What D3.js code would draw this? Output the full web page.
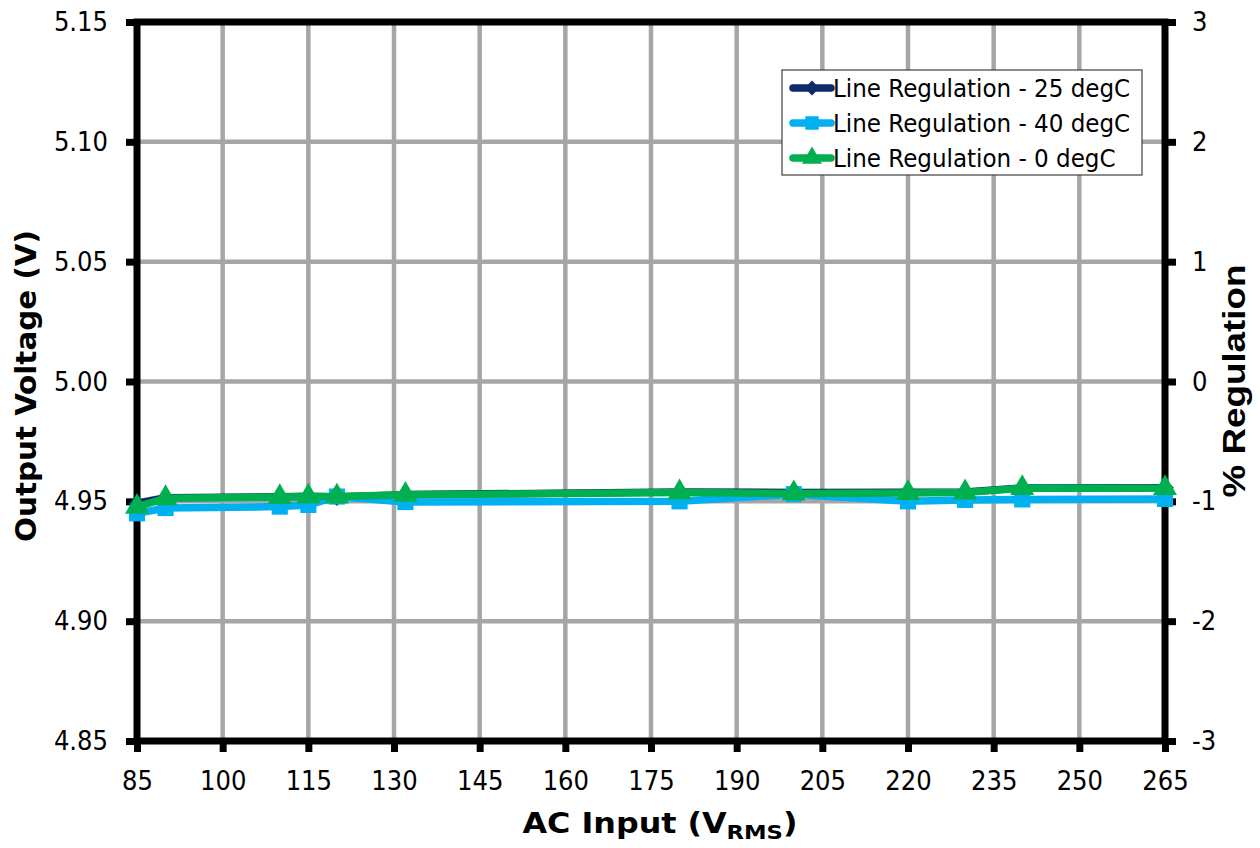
<!DOCTYPE html>
<html>
<head>
<meta charset="utf-8">
<script src="https://cdn.jsdelivr.net/npm/d3@7"></script>
<style>
  html, body { margin: 0; padding: 0; background: #ffffff; }
  svg { display: block; }
  .tick-label { font-family: "DejaVu Sans Condensed", "DejaVu Sans", sans-serif; font-stretch: condensed; font-size: 27px; fill: #000; }
  .axis-title { font-family: "DejaVu Sans Condensed", "DejaVu Sans", sans-serif; font-stretch: condensed; font-weight: bold; fill: #000; }
  .reg-title { font-family: "Liberation Sans", Arial, sans-serif; font-weight: bold; font-size: 31px; fill: #000; }
  .legend-text { font-family: "DejaVu Sans Condensed", "DejaVu Sans", sans-serif; font-stretch: condensed; font-size: 25.6px; fill: #000; }
</style>
</head>
<body>
<svg id="chart" width="1260" height="848"></svg>
<script>
// AC input voltages measured (V RMS)
const acInput = [85, 90, 110, 115, 120, 132, 180, 200, 220, 230, 240, 265];

// Output voltage (V) at each input voltage, per ambient temperature
const vout25C = [4.9492, 4.9515, 4.9519, 4.9521, 4.9518, 4.9528, 4.9539, 4.9537, 4.9538, 4.9539, 4.9556, 4.9557];
const vout40C = [4.9450, 4.9472, 4.9478, 4.9485, 4.9520, 4.9497, 4.9500, 4.9530, 4.9500, 4.9506, 4.9508, 4.9510];
const vout0C  = [4.9477, 4.9513, 4.9518, 4.9520, 4.9520, 4.9527, 4.9537, 4.9533, 4.9535, 4.9537, 4.9555, 4.9555];

const seriesNames = ["Line Regulation - 25 degC", "Line Regulation - 40 degC", "Line Regulation - 0 degC"];

// Axis ticks
const xTicks = [85, 100, 115, 130, 145, 160, 175, 190, 205, 220, 235, 250, 265];
const yTicks = [4.85, 4.90, 4.95, 5.00, 5.05, 5.10, 5.15];
const regTicks = [-3, -2, -1, 0, 1, 2, 3];

const svg = d3.select("#chart");
const plot = { left: 137, right: 1165, top: 22, bottom: 741 };

const x = d3.scaleLinear().domain([85, 265]).range([plot.left, plot.right]);
const y = d3.scaleLinear().domain([4.85, 5.15]).range([plot.bottom, plot.top]);
const yReg = d3.scaleLinear().domain([-3, 3]).range([plot.bottom, plot.top]);

const gridColor = "#a6a6a6";

// Grid lines
const grid = svg.append("g");
grid.selectAll("line.vg")
  .data(xTicks.slice(1, -1))
  .join("line")
  .attr("x1", d => x(d)).attr("x2", d => x(d))
  .attr("y1", plot.top).attr("y2", plot.bottom)
  .attr("stroke", gridColor).attr("stroke-width", 4.5);
grid.selectAll("line.hg")
  .data(yTicks.slice(1, -1))
  .join("line")
  .attr("x1", plot.left).attr("x2", plot.right)
  .attr("y1", d => y(d)).attr("y2", d => y(d))
  .attr("stroke", gridColor).attr("stroke-width", 4.5);

// Axes (frame plus outward ticks)
const axisStroke = 7;
function styleAxis(g) {
  g.select(".domain").remove();
  g.selectAll(".tick line").attr("stroke", "#000").attr("stroke-width", axisStroke);
  g.selectAll(".tick text").attr("class", "tick-label").attr("fill", "#000");
}

const xAxis = svg.append("g")
  .attr("transform", `translate(0,${plot.bottom})`)
  .call(d3.axisBottom(x).tickValues(xTicks).tickFormat(d => String(d)).tickSize(11).tickPadding(19));
styleAxis(xAxis);
xAxis.selectAll(".tick text").attr("dy", "0.71em");

const yAxis = svg.append("g")
  .attr("transform", `translate(${plot.left},0)`)
  .call(d3.axisLeft(y).tickValues(yTicks).tickFormat(d => d.toFixed(2)).tickSize(11).tickPadding(18));
styleAxis(yAxis);

const rAxis = svg.append("g")
  .attr("transform", `translate(${plot.right},0)`)
  .call(d3.axisRight(yReg).tickValues(regTicks).tickFormat(d => String(d)).tickSize(11).tickPadding(16));
styleAxis(rAxis);

// Frame
svg.append("rect")
  .attr("x", plot.left).attr("y", plot.top)
  .attr("width", plot.right - plot.left).attr("height", plot.bottom - plot.top)
  .attr("fill", "none").attr("stroke", "#000").attr("stroke-width", axisStroke);

// Series
const colors = ["#0f2a6b", "#00b0f0", "#00b050"];
const shapes = [d3.symbolDiamond2, d3.symbolSquare, d3.symbolTriangle];
const sizes = [200, 260, 250];
const seriesData = [vout25C, vout40C, vout0C];

const line = d3.line().x(d => x(d[0])).y(d => y(d[1]));

seriesData.forEach((vals, i) => {
  const pts = acInput.map((v, j) => [v, vals[j]]);
  const g = svg.append("g");
  g.append("path")
    .datum(pts)
    .attr("d", line)
    .attr("fill", "none")
    .attr("stroke", colors[i])
    .attr("stroke-width", 7.5)
    .attr("stroke-linejoin", "round")
    .attr("stroke-linecap", "round");
  g.selectAll("path.m")
    .data(pts)
    .join("path")
    .attr("class", "m")
    .attr("transform", d => `translate(${x(d[0])},${y(d[1])})`)
    .attr("d", d3.symbol().type(shapes[i]).size(sizes[i]))
    .attr("fill", colors[i]);
});

// Legend
const legend = svg.append("g").attr("transform", "translate(782,70)");
legend.append("rect")
  .attr("x", 0).attr("y", 0).attr("width", 360).attr("height", 105)
  .attr("fill", "#fff").attr("stroke", "#404040").attr("stroke-width", 1.2);
seriesNames.forEach((name, i) => {
  const cy = 18 + i * 35;
  legend.append("line")
    .attr("x1", 11).attr("x2", 49).attr("y1", cy).attr("y2", cy)
    .attr("stroke", colors[i]).attr("stroke-width", 7.5).attr("stroke-linecap", "round");
  legend.append("path")
    .attr("transform", `translate(30,${cy})`)
    .attr("d", d3.symbol().type(shapes[i]).size(sizes[i] * 0.7))
    .attr("fill", colors[i]);
  legend.append("text")
    .attr("class", "legend-text")
    .attr("x", 51).attr("y", cy + 9)
    .text(name);
});

// Axis titles: each title is stretched along its reading direction to a set length
function fitTitle(textSel, cx, cy, angle, length) {
  const box = textSel.node().getBBox();
  const s = length / box.width;
  textSel.attr("transform", `translate(${cx},${cy}) rotate(${angle}) scale(${s},1)`);
}

const yTitle = svg.append("text")
  .attr("class", "axis-title")
  .attr("font-size", 29)
  .attr("text-anchor", "middle")
  .text("Output Voltage (V)");
fitTitle(yTitle, 36, 386, -90, 312);

const xTitle = svg.append("text")
  .attr("class", "axis-title")
  .attr("font-size", 28)
  .attr("text-anchor", "middle");
xTitle.append("tspan").text("AC Input (V");
xTitle.append("tspan").attr("font-size", 20).attr("dy", 6).text("RMS");
xTitle.append("tspan").attr("dy", -6).text(")");
fitTitle(xTitle, 660, 833, 0, 275);

const rTitle = svg.append("text")
  .attr("class", "reg-title")
  .attr("text-anchor", "middle")
  .text("% Regulation");
fitTitle(rTitle, 1245, 381, -90, 233);
</script>
</body>
</html>
